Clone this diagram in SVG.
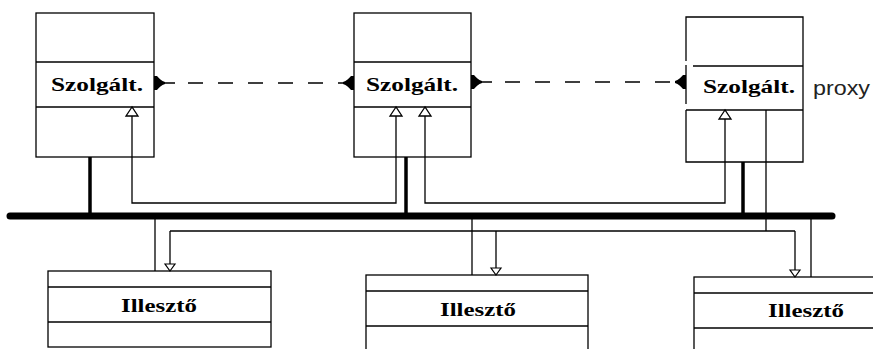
<svg xmlns="http://www.w3.org/2000/svg" width="873" height="349" viewBox="0 0 873 349">
<style>
.box{fill:#fff;stroke:#000;stroke-width:1.3}
.div{stroke:#000;stroke-width:1.3;fill:none}
.lbl{font-family:"Liberation Serif","Times New Roman",serif;font-weight:bold;font-size:19px;fill:#000;text-anchor:middle}
.proxy{font-family:"Liberation Sans",Arial,sans-serif;font-size:20px;fill:#222}
.thin{stroke:#000;stroke-width:1.3;fill:none}
.thick{stroke:#000;stroke-width:3.5;fill:none}
.bus{stroke:#000;stroke-width:7;stroke-linecap:round;fill:none}
.dash{stroke:#000;stroke-width:1.4;fill:none;stroke-dasharray:21 13 15 15 15 15 15 15 15 15 15 15 15 15}
</style>
<defs>
<marker id="dh" markerUnits="userSpaceOnUse" viewBox="-12 -8 13 16" markerWidth="13" markerHeight="16" refX="0" refY="0" orient="auto-start-reverse" overflow="visible">
<path d="M0,-7 L-3,-7 C-5,-4.5 -7.5,-2 -11,-0.9 L-11,0.9 C-7.5,2 -5,4.5 -3,7 L0,7 Z" fill="#000"/>
</marker>
<marker id="tri" markerUnits="userSpaceOnUse" viewBox="-10 -7 11 14" markerWidth="11" markerHeight="14" refX="0" refY="0" orient="auto-start-reverse" overflow="visible">
<path d="M0,0 L-9,-6 L-9,6 Z" fill="#fff" stroke="#000" stroke-width="1.3"/>
</marker>
<marker id="tri2" markerUnits="userSpaceOnUse" viewBox="-8 -6 9 12" markerWidth="9" markerHeight="12" refX="0" refY="0" orient="auto" overflow="visible">
<path d="M0,0 L-7,-5 L-7,5 Z" fill="#fff" stroke="#000" stroke-width="1.2"/>
</marker>
</defs>

<g id="szolgalt1">
<rect class="box" x="36" y="13" width="118" height="144"/>
<line class="div" x1="36" y1="62" x2="154" y2="62"/>
<line class="div" x1="36" y1="107" x2="154" y2="107"/>
<text class="lbl" x="97" y="91" textLength="92" lengthAdjust="spacingAndGlyphs">Szolgált.</text>
</g>

<g id="szolgalt2">
<rect class="box" x="354" y="13" width="117" height="144"/>
<line class="div" x1="354" y1="62" x2="471" y2="62"/>
<line class="div" x1="354" y1="107" x2="471" y2="107"/>
<text class="lbl" x="412" y="91" textLength="92" lengthAdjust="spacingAndGlyphs">Szolgált.</text>
</g>

<g id="szolgalt3">
<path class="div" d="M686,61 V17 H803 V162 H686 V110"/>
<line class="div" x1="686" y1="65" x2="686" y2="104"/>
<line class="div" x1="693" y1="66" x2="803" y2="66"/>
<line class="div" x1="686" y1="110" x2="803" y2="110"/>
<text class="lbl" x="749" y="93" textLength="92" lengthAdjust="spacingAndGlyphs">Szolgált.</text>
<text class="proxy" x="813" y="95" textLength="57" lengthAdjust="spacingAndGlyphs">proxy</text>
</g>

<g id="illeszto1">
<rect class="box" x="48" y="271" width="223" height="76"/>
<line class="div" x1="48" y1="287" x2="271" y2="287"/>
<line class="div" x1="48" y1="322" x2="271" y2="322"/>
<text class="lbl" x="159" y="312" textLength="76" lengthAdjust="spacingAndGlyphs">Illesztő</text>
</g>

<g id="illeszto2">
<rect class="box" x="366" y="275" width="222" height="90"/>
<line class="div" x1="366" y1="291" x2="588" y2="291"/>
<line class="div" x1="366" y1="326" x2="588" y2="326"/>
<text class="lbl" x="478" y="316" textLength="76" lengthAdjust="spacingAndGlyphs">Illesztő</text>
</g>

<g id="illeszto3">
<rect class="box" x="694" y="277" width="226" height="90"/>
<line class="div" x1="694" y1="293" x2="920" y2="293"/>
<line class="div" x1="694" y1="328" x2="920" y2="328"/>
<text class="lbl" x="806" y="317" textLength="76" lengthAdjust="spacingAndGlyphs">Illesztő</text>
</g>

<g id="connectors">
<line class="bus" x1="10" y1="216" x2="832" y2="216"/>
<line class="thick" x1="90" y1="157" x2="90" y2="216"/>
<line class="thick" x1="406" y1="157" x2="406" y2="216"/>
<line class="thick" x1="743" y1="162" x2="743" y2="216"/>
<line class="dash" x1="154" y1="83" x2="354" y2="83" marker-start="url(#dh)" marker-end="url(#dh)"/>
<line class="dash" x1="471" y1="82" x2="686" y2="82" marker-start="url(#dh)" marker-end="url(#dh)"/>
<path class="thin" d="M132,107 V203 H396 V107" marker-start="url(#tri)" marker-end="url(#tri)"/>
<path class="thin" d="M425,107 V203 H725 V110" marker-start="url(#tri)" marker-end="url(#tri)"/>
<path class="thin" d="M766,110 V231"/>
<path class="thin" d="M170,231 H795"/>
<path class="thin" d="M170,231 V271" marker-end="url(#tri2)"/>
<path class="thin" d="M496,231 V275" marker-end="url(#tri2)"/>
<path class="thin" d="M795,231 V277" marker-end="url(#tri2)"/>
<line class="thin" x1="155" y1="216" x2="155" y2="271"/>
<line class="thin" x1="472" y1="216" x2="472" y2="275"/>
<line class="thin" x1="811" y1="216" x2="811" y2="277"/>
</g>
</svg>
